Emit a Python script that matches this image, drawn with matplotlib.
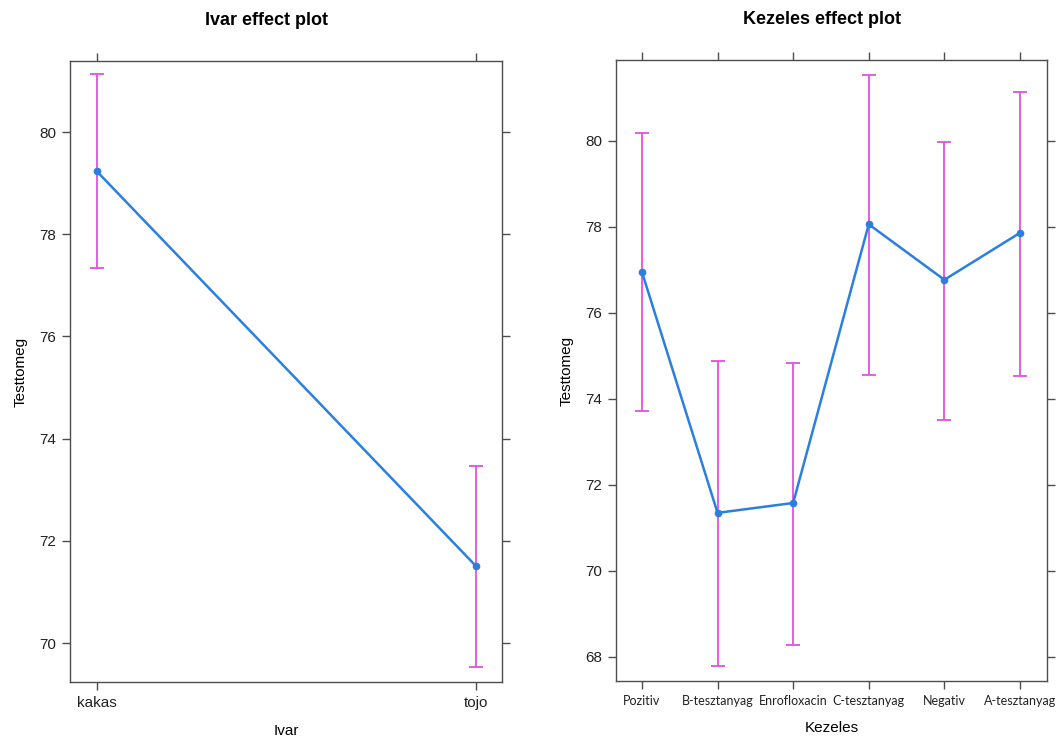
import matplotlib
matplotlib.use("Agg")
import matplotlib.pyplot as plt
import numpy as np

# Ivar effect
ivar_levels = ["kakas", "tojo"]
ivar_fit = [79.23, 71.51]
ivar_lower = [77.33, 69.53]
ivar_upper = [81.13, 73.46]

# Kezeles effect
kez_levels = ["Pozitiv", "B-tesztanyag", "Enrofloxacin", "C-tesztanyag", "Negativ", "A-tesztanyag"]
kez_fit = [76.95, 71.35, 71.58, 78.06, 76.77, 77.86]
kez_lower = [73.72, 67.79, 68.28, 74.56, 73.51, 74.53]
kez_upper = [80.19, 74.88, 74.84, 81.53, 79.98, 81.14]

LINE = "#2a7fe0"
CI = "#e050e0"
FRAME = "#4d4d4d"

plt.rcParams["font.family"] = ["Liberation Sans", "DejaVu Sans"]

fig = plt.figure(figsize=(10.62, 7.4), dpi=100)
ax1 = fig.add_axes([0.0659, 0.0784, 0.4068, 0.8392])
ax2 = fig.add_axes([0.5800, 0.0797, 0.4058, 0.8392])


def effect_panel(ax, levels, fit, lower, upper, title, title_x, xlabel, xpad, tickfont):
    x = np.arange(len(levels))
    fit = np.asarray(fit)
    ax.errorbar(x, fit, yerr=[fit - np.asarray(lower), np.asarray(upper) - fit],
                fmt="none", ecolor=CI, elinewidth=1.3, capsize=4.8, capthick=1.3, zorder=2)
    ax.plot(x, fit, color=LINE, lw=1.8, marker="o", ms=4.5, zorder=3)
    for s in ax.spines.values():
        s.set_color(FRAME)
        s.set_linewidth(1.0)
    ax.tick_params(direction="out", length=6, width=1.0, color=FRAME,
                   top=True, right=True, labelsize=11, labelcolor="#222222", pad=4)
    ax.set_xticks(x)
    ax.set_xticklabels(levels, **tickfont)
    ax.set_title(title, fontsize=13, fontweight="bold", x=title_x, pad=26)
    ax.set_xlabel(xlabel, fontsize=11, labelpad=xpad)
    ax.set_ylabel("Testtomeg", fontsize=11, labelpad=8)


effect_panel(ax1, ivar_levels, ivar_fit, ivar_lower, ivar_upper,
             "Ivar effect plot", 0.454, "Ivar", 10, {"fontsize": 11})
ax1.set_xlim(-0.071, 1.069)
ax1.set_ylim(69.24, 81.39)
ax1.set_yticks([70, 72, 74, 76, 78, 80])

effect_panel(ax2, kez_levels, kez_fit, kez_lower, kez_upper,
             "Kezeles effect plot", 0.478, "Kezeles", 10,
             {"fontsize": 9.0, "family": "Lato"})
ax2.set_xlim(-0.344, 5.357)
ax2.set_ylim(67.44, 81.88)
ax2.set_yticks([68, 70, 72, 74, 76, 78, 80])

fig.savefig("out.png", dpi=100)
